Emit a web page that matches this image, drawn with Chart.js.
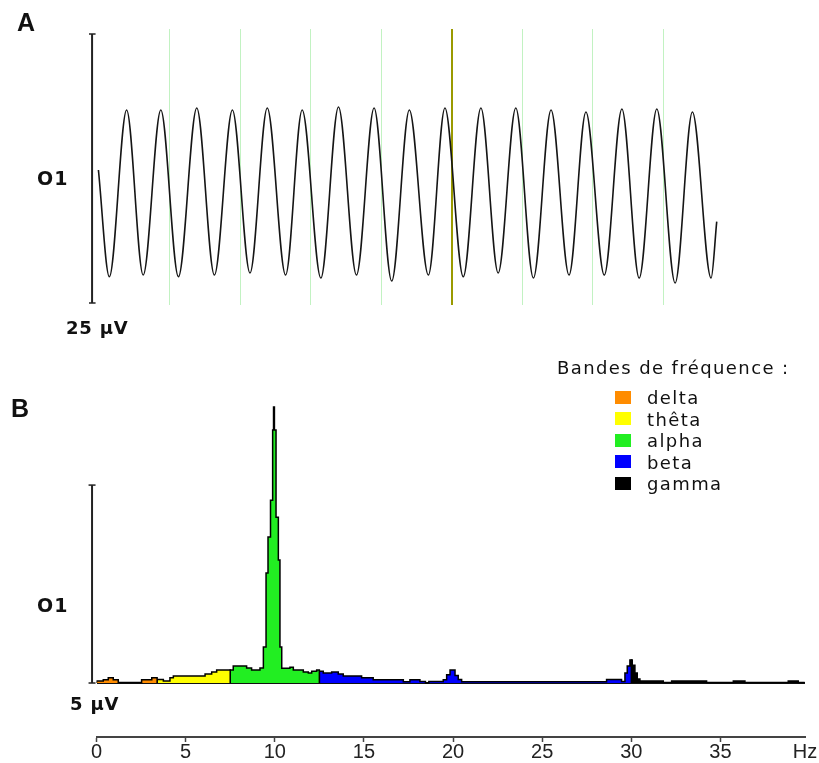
<!DOCTYPE html>
<html>
<head>
<meta charset="utf-8">
<script src="https://cdn.jsdelivr.net/npm/chart.js@4"></script>
<style>
  body { margin: 0; background: #fff; }
  #page { position: relative; width: 819px; height: 763px; overflow: hidden; }
  .layer { position: absolute; left: 0; top: 0; width: 819px; height: 763px; }
  .lbl { position: absolute; transform: translateY(-50%); white-space: nowrap; color: #111; }
  .big { font: bold 25px "Liberation Sans", Arial, sans-serif; }
  .chan { font: bold 19px "DejaVu Sans", sans-serif; letter-spacing: 1px; }
  .scale { font: bold 18px "DejaVu Sans", sans-serif; letter-spacing: 0.8px; }
  .leg { font: 18px "DejaVu Sans", sans-serif; letter-spacing: 1.4px; }
  .swatch { position: absolute; width: 16px; height: 13px; }
</style>
</head>
<body>
<div id="page">
  <div class="layer"><canvas id="eegA"></canvas></div>
  <div class="layer"><canvas id="eegB"></canvas></div>
  <div class="lbl big" style="left:17px;top:22px">A</div>
  <div class="lbl chan" style="left:37px;top:178px">O1</div>
  <div class="lbl scale" style="left:66px;top:327px">25 µV</div>
  <div class="lbl big" style="left:11px;top:408px">B</div>
  <div class="lbl chan" style="left:37px;top:605px">O1</div>
  <div class="lbl scale" style="left:70px;top:703px">5 µV</div>
  <div class="lbl leg" style="left:557px;top:367px">Bandes de fréquence :</div>
  <div id="legend"></div>
</div>
<script>
// A: raw EEG trace, O1 channel (seconds, µV) - peaks and troughs
const waveTime = [-0.003, 0.028, 0.077, 0.124, 0.174, 0.224, 0.276, 0.326, 0.377, 0.427,
  0.476, 0.528, 0.575, 0.628, 0.678, 0.729, 0.779, 0.829, 0.879, 0.933,
  0.980, 1.032, 1.082, 1.131, 1.181, 1.231, 1.281, 1.332, 1.380, 1.432,
  1.482, 1.531, 1.581, 1.633, 1.682, 1.735, 1.751];
const waveMicroV = [-0.14, -10.06, 5.44, -9.90, 5.44, -10.06, 5.62, -9.90, 5.44, -9.71,
  5.62, -9.90, 5.44, -10.18, 5.72, -9.90, 5.62, -10.46, 5.44, -9.90,
  5.62, -10.06, 5.62, -9.71, 5.62, -10.18, 5.44, -9.90, 5.25, -9.90,
  5.53, -10.18, 5.53, -10.64, 5.25, -10.18, -4.94];
const gridTimes = [0.2, 0.4, 0.6, 0.8, 1.0, 1.2, 1.4, 1.6];
const cursorTime = 1.0;
const scaleA = 25;   // µV

// B: amplitude spectrum (Hz, µV), each value holds until the next frequency
const specHz = [0.00, 0.38, 0.66, 0.94, 1.22, 2.53, 3.10, 3.40, 3.75, 4.12,
  4.31, 6.09, 6.46, 6.74, 7.50, 7.67, 8.42, 8.70, 9.17, 9.36,
  9.51, 9.62, 9.76, 9.88, 9.93, 9.98, 10.07, 10.20, 10.29, 10.39,
  10.85, 11.04, 11.60, 11.88, 12.07, 12.35, 12.50, 12.72, 13.19, 13.56,
  13.84, 14.87, 15.52, 17.21, 17.58, 18.14, 18.45, 18.64, 19.45, 19.64,
  19.83, 20.11, 20.29, 20.48, 28.61, 29.45, 29.64, 29.77, 29.92, 30.00,
  30.05, 30.20, 30.33, 30.48, 31.79, 32.26, 34.22, 35.72, 36.37, 38.80,
  39.36, 39.68];
const specMicroV = [0.05, 0.08, 0.13, 0.08, 0.01, 0.08, 0.13, 0.09, 0.05, 0.13,
  0.18, 0.23, 0.28, 0.33, 0.33, 0.43, 0.38, 0.33, 0.38, 0.91,
  2.78, 3.69, 4.62, 6.39, 6.97, 6.39, 4.19, 3.11, 0.91, 0.37,
  0.40, 0.33, 0.28, 0.25, 0.30, 0.33, 0.30, 0.25, 0.28, 0.23,
  0.18, 0.13, 0.08, 0.03, 0.08, 0.04, 0.00, 0.04, 0.08, 0.21,
  0.33, 0.19, 0.09, 0.03, 0.09, 0.04, 0.25, 0.43, 0.58, 0.58,
  0.45, 0.25, 0.10, 0.05, 0.01, 0.05, 0.01, 0.05, 0.01, 0.05,
  0.01, 0.01];
const bandNames = ['delta', 'thêta', 'alpha', 'beta', 'gamma'];
const bandEdges = [0, 3.4, 7.5, 12.5, 30, 39.68];
const bandColors = ['#ff8c00', '#ffff00', '#22ee22', '#0000ff', '#000000'];
const hzTicks = [0, 5, 10, 15, 20, 25, 30, 35];
const hzMax = 39.74;
const scaleB = 5;    // µV

const common = {
  responsive: true,
  maintainAspectRatio: false,
  animation: false,
  devicePixelRatio: 1,
  events: [],
  plugins: { legend: { display: false }, tooltip: { enabled: false } }
};

new Chart(document.getElementById('eegA'), {
  type: 'line',
  data: {
    datasets: [
      {
        data: waveTime.map((t, i) => ({ x: t, y: waveMicroV[i] })),
        borderColor: '#151515',
        borderWidth: 1.6,
        pointRadius: 0,
        cubicInterpolationMode: 'monotone'
      },
      {
        // calibration bar
        data: [{ x: -0.021, y: -scaleA / 2 }, { x: -0.021, y: scaleA / 2 }],
        borderColor: '#222',
        borderWidth: 2,
        pointStyle: 'line',
        pointRadius: 3.5,
        pointBorderColor: '#222',
        pointBorderWidth: 1.5
      }
    ]
  },
  options: {
    ...common,
    layout: { padding: { left: 88.9, right: 85, top: 29, bottom: 458 } },
    scales: {
      x: {
        type: 'linear', min: -0.03, max: 1.8,
        border: { display: false },
        ticks: { display: false },
        afterBuildTicks: axis => { axis.ticks = gridTimes.map(v => ({ value: v })); },
        grid: {
          drawTicks: false,
          color: ctx => Math.abs(ctx.tick.value - cursorTime) < 1e-6 ? '#9a9a00' : '#c2f2c2',
          lineWidth: ctx => Math.abs(ctx.tick.value - cursorTime) < 1e-6 ? 2 : 1
        }
      },
      y: { display: false, min: -12.686, max: 12.965 }
    }
  }
});

// split the spectrum into one filled dataset per band
const bandSets = bandNames.map((name, b) => {
  const lo = bandEdges[b], hi = bandEdges[b + 1];
  const pts = [{ x: lo, y: 0 }];
  specHz.forEach((f, i) => { if (f >= lo && f < hi) pts.push({ x: f, y: specMicroV[i] }); });
  pts.push({ x: hi, y: 0 });
  return {
    label: name,
    data: pts,
    stepped: true,
    fill: 'origin',
    backgroundColor: bandColors[b],
    borderColor: '#000',
    borderWidth: 1.5,
    pointRadius: 0
  };
});

new Chart(document.getElementById('eegB'), {
  type: 'line',
  data: {
    datasets: [
      ...bandSets,
      {
        data: [{ x: -0.25, y: 0 }, { x: -0.25, y: scaleB }],
        clip: false,
        borderColor: '#222',
        borderWidth: 2,
        pointStyle: 'line',
        pointRadius: 3.5,
        pointBorderColor: '#222',
        pointBorderWidth: 1.5
      }
    ]
  },
  options: {
    ...common,
    layout: { padding: { left: 96.5, right: 14, top: 398, bottom: 1 } },
    scales: {
      x: {
        type: 'linear', min: 0, max: hzMax,
        border: { color: '#444', width: 2 },
        afterBuildTicks: axis => { axis.ticks = hzTicks.concat([hzMax]).map(v => ({ value: v })); },
        grid: {
          drawOnChartArea: false,
          tickLength: 5,
          tickColor: ctx => ctx.tick && ctx.tick.value === hzMax ? 'rgba(0,0,0,0)' : '#444',
          tickWidth: 1.5
        },
        ticks: {
          autoSkip: false, maxRotation: 0, padding: 0, color: '#222',
          font: { family: '"Liberation Sans", Arial, sans-serif', size: 20, lineHeight: 1 },
          callback: v => v === hzMax ? 'Hz' : v
        }
      },
      y: {
        min: -1.364, max: 7.2,
        z: 1,
        border: { display: false },
        ticks: { display: false },
        afterBuildTicks: axis => { axis.ticks = [{ value: 0 }]; },
        grid: { drawTicks: false, color: '#111', lineWidth: 2 }
      }
    }
  }
});

// html legend built from the band arrays
const legend = document.getElementById('legend');
bandNames.forEach((name, b) => {
  const cy = 397 + b * 21.5;
  const sw = document.createElement('div');
  sw.className = 'swatch';
  sw.style.left = '615px';
  sw.style.top = (cy - 6.5) + 'px';
  sw.style.background = bandColors[b];
  legend.appendChild(sw);
  const tx = document.createElement('div');
  tx.className = 'lbl leg';
  tx.style.left = '647px';
  tx.style.top = cy + 'px';
  tx.textContent = name;
  legend.appendChild(tx);
});
</script>
</body>
</html>
